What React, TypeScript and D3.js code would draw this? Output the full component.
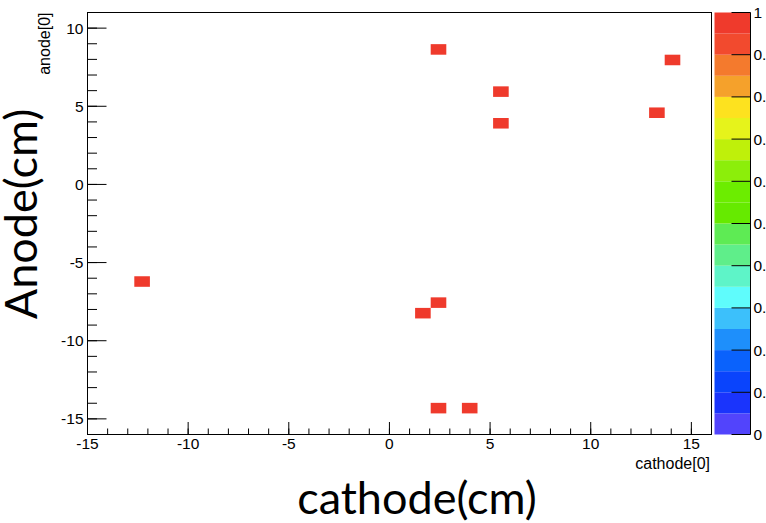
import React from "react";
import * as d3 from "d3";

// Hit positions (cm) for the first cathode/anode channel
const cathode = [2.4, 14.1, 5.5, 5.5, 13.3, -12.3, 2.4, 1.7, 2.4, 4.0];
const anode = [8.6, 8.0, 5.9, 3.9, 4.6, -6.2, -7.6, -8.2, -14.3, -14.3];

const xTicks = [-15, -10, -5, 0, 5, 10, 15];
const yTicks = [-15, -10, -5, 0, 5, 10];
const zTicks = [0, 0.1, 0.2, 0.3, 0.4, 0.5, 0.6, 0.7, 0.8, 0.9, 1];

// 20 contour colours, lowest to highest
const palette = [
  "#5244fc", "#1a34fc", "#0a44fc", "#0a62fc", "#1e8ffb",
  "#3cc0fb", "#5ffcfc", "#5ef4c8", "#5fee8a", "#5eeb54",
  "#66ea00", "#6ced00", "#8cee0a", "#bff00a", "#e6f31b",
  "#fde21f", "#f5a12b", "#f47a2d", "#f24a2e", "#ef3a2c",
];

const W = 766;
const H = 523;
const L = 87.5, R = 711.5, T = 12.5, B = 434.5;
const xDom: [number, number] = [-15, 16];
const yDom: [number, number] = [-16, 11];
const NB = 40;
const tickFont = "'Liberation Sans', Arial, sans-serif";
const bigFont = "Lato, 'Open Sans', sans-serif";

export default function App() {
  const x = d3.scaleLinear().domain(xDom).range([L, R]);
  const y = d3.scaleLinear().domain(yDom).range([B, T]);
  const xb = d3.scaleLinear().domain(xDom).range([0, NB]);
  const yb = d3.scaleLinear().domain(yDom).range([0, NB]);
  const xEdge = (i: number) => xDom[0] + ((xDom[1] - xDom[0]) * i) / NB;
  const yEdge = (j: number) => yDom[0] + ((yDom[1] - yDom[0]) * j) / NB;

  const counts = d3.rollup(
    cathode.map((c, k) => [Math.floor(xb(c)), Math.floor(yb(anode[k]))]),
    (v) => v.length,
    (d) => `${d[0]},${d[1]}`
  );
  const cells = Array.from(counts, ([key, n]) => {
    const [i, j] = key.split(",").map(Number);
    return { i, j, n };
  });
  const zMax = d3.max(cells, (c) => c.n) ?? 1;
  const zNorm = d3.scaleLinear().domain([0, zMax]).range([0, 1]);
  const color = d3.scaleQuantize<string>().domain([0, 1]).range(palette);

  const cbL = 714.5, cbR = 750.5;
  const z = d3.scaleLinear().domain([0, 1]).range([B, T]);
  const bands = d3.range(palette.length).map((k) => ({
    lo: k / palette.length,
    hi: (k + 1) / palette.length,
    c: palette[k],
  }));

  const xMinor = d3.range(xDom[0], xDom[1] + 1, 1);
  const yMinor = d3.range(yDom[0], yDom[1] + 1, 1);

  return (
    <svg
      width={W}
      height={H}
      style={{ position: "absolute", left: 0, top: 0, background: "#fff" }}
    >
      {/* histogram cells */}
      {cells.map((c) => (
        <rect
          key={`${c.i}-${c.j}`}
          x={x(xEdge(c.i))}
          y={y(yEdge(c.j + 1))}
          width={x(xEdge(c.i + 1)) - x(xEdge(c.i))}
          height={y(yEdge(c.j)) - y(yEdge(c.j + 1))}
          fill={color(zNorm(c.n))}
        />
      ))}

      {/* frame */}
      <rect x={L} y={T} width={R - L} height={B - T} fill="none" stroke="#000" strokeWidth={1} />

      {/* x axis ticks */}
      {xMinor.map((v) => (
        <line key={`xm${v}`} x1={x(v)} x2={x(v)} y1={B} y2={B - 6} stroke="#000" />
      ))}
      {xTicks.map((v) => (
        <g key={`xt${v}`}>
          <line x1={x(v)} x2={x(v)} y1={B} y2={B - 12.5} stroke="#000" />
          <text x={x(v)} y={448.5} textAnchor="middle" fontFamily={tickFont} fontSize={15.5} fill="#000">
            {v}
          </text>
        </g>
      ))}

      {/* y axis ticks */}
      {yMinor.map((v) => (
        <line key={`ym${v}`} x1={L} x2={L + 9.5} y1={y(v)} y2={y(v)} stroke="#000" />
      ))}
      {yTicks.map((v) => (
        <g key={`yt${v}`}>
          <line x1={L} x2={L + 19} y1={y(v)} y2={y(v)} stroke="#000" />
          <text x={83.5} y={y(v)} dy="0.36em" textAnchor="end" fontFamily={tickFont} fontSize={15.5} fill="#000">
            {v}
          </text>
        </g>
      ))}

      {/* axis titles */}
      <text x={710} y={469} textAnchor="end" fontFamily={tickFont} fontSize={16} fill="#000">
        cathode[0]
      </text>
      <text
        transform={`translate(50,${T}) rotate(-90)`}
        textAnchor="end"
        fontFamily={tickFont}
        fontSize={16}
        fill="#000"
      >
        anode[0]
      </text>

      {/* colour scale */}
      {bands.map((b) => (
        <rect key={b.lo} x={cbL} y={z(b.hi)} width={cbR - cbL} height={z(b.lo) - z(b.hi)} fill={b.c} />
      ))}
      <line x1={cbR} x2={cbR} y1={T} y2={B} stroke="#000" />
      {zTicks.map((v) => (
        <g key={`zt${v}`}>
          <line x1={cbR - 19} x2={cbR} y1={z(v)} y2={z(v)} stroke="#000" />
          <text x={753.5} y={z(v)} dy="0.36em" fontFamily={tickFont} fontSize={15.5} fill="#000">
            {v}
          </text>
        </g>
      ))}

      {/* large labels */}
      <text x={417} y={514} textAnchor="middle" fontFamily={bigFont} fontSize={45} fill="#000">
        cathode(cm)
      </text>
      <text
        transform="translate(37,214) rotate(-90)"
        textAnchor="middle"
        fontFamily={bigFont}
        fontSize={45}
        fill="#000"
      >
        Anode(cm)
      </text>
    </svg>
  );
}
